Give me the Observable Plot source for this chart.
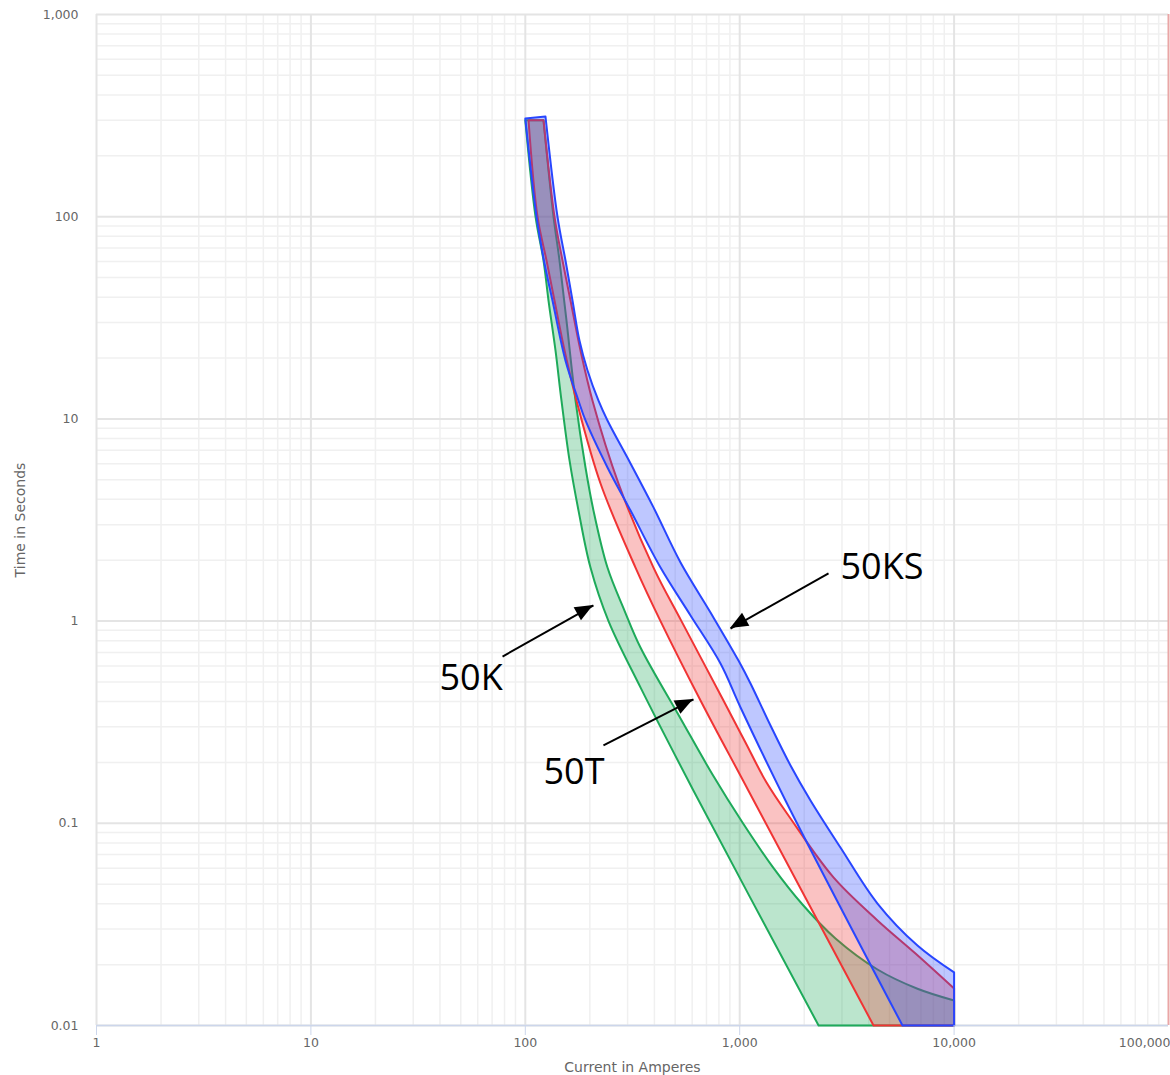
<!DOCTYPE html>
<html>
<head>
<meta charset="utf-8">
<script src="https://cdn.jsdelivr.net/npm/d3@7"></script>
<script src="https://cdn.jsdelivr.net/npm/@observablehq/plot@0.6"></script>
<style>
  html, body { margin: 0; padding: 0; background: #fff; }
  #chart { width: 1170px; height: 1075px; }
</style>
</head>
<body>
<div id="chart"></div>
<script>
// Time-current characteristics of three 50 A fuse links on log-log axes.
// Each band spans from the minimum-melting curve (left edge) to the
// total-clearing curve (right edge): current in amperes vs. time in seconds.

// 50K fuse link
const k50MeltAmps  = [100, 111.6, 121.6, 128.3, 138.3, 147.5, 160.8, 177.1, 201.4, 244.4, 344.5, 609, 2333];
const k50MeltSecs  = [300, 100, 60.7, 38.5, 21.8, 12.3, 6.23, 3.52, 1.84, 1.0, 0.47, 0.145, 0.01];
const k50ClearAmps = [121.6, 135.4, 144.4, 155.6, 171.5, 190.9, 208, 241.7, 290.1, 344.5, 529.7, 746.7, 1030.5, 1422, 1963, 2798, 4393, 6748, 10000];
const k50ClearSecs = [300, 100, 60.7, 30.67, 12.3, 5.75, 3.52, 1.84, 1.128, 0.74, 0.3299, 0.1743, 0.1009, 0.0611, 0.03967, 0.02694, 0.01892, 0.0152, 0.0133];

// 50T fuse link
const t50MeltAmps  = [103.5, 114, 125.6, 136.8, 152.4, 173.3, 224.3, 326.6, 427.2, 656.5, 1099, 4210];
const t50MeltSecs  = [300, 100, 60.7, 38.5, 21.8, 12.3, 4.79, 1.84, 1.0, 0.405, 0.145, 0.01];
const t50ClearAmps = [121.6, 136.8, 149.1, 162.5, 180.9, 205.8, 272.1, 396.2, 535, 840, 1064, 1334, 1726, 2738, 4393, 6607, 10000];
const t50ClearSecs = [300, 100, 60.7, 38.5, 21.8, 12.3, 4.79, 1.84, 1.0, 0.405, 0.2509, 0.1591, 0.1056, 0.054, 0.0331, 0.0227, 0.01524];

// 50KS fuse link
const ks50MeltAmps  = [100, 112.8, 122.9, 133.9, 154, 177.1, 190.9, 241.7, 309.6, 427.2, 589.7, 813.6, 1009, 1635, 5745];
const ks50MeltSecs  = [306, 100, 58.7, 38.5, 19.4, 12.3, 9.82, 5.75, 3.52, 1.84, 1.066, 0.617, 0.374, 0.1297, 0.01];
const ks50ClearAmps = [124.2, 141.3, 154, 166, 178.9, 195.1, 219.5, 241.7, 309.6, 396.2, 529.7, 730.9, 987.2, 1123, 1392, 1726, 2139, 2951, 4393, 6748, 10000];
const ks50ClearSecs = [313, 100, 60.7, 38.5, 24.42, 17.35, 12.3, 9.82, 6.02, 3.65, 1.949, 1.103, 0.638, 0.4914, 0.3045, 0.1931, 0.1297, 0.0759, 0.0401, 0.02486, 0.0183];

// Callout labels and their arrows
const calloutLabels = ["50KS", "50K", "50T"];
const calloutAmps   = [2951, 39.8, 121.6];
const calloutSecs   = [1.84, 0.52, 0.178];
const arrowTailAmps = [2596, 78.3, 231.5];
const arrowTailSecs = [1.72, 0.668, 0.2426];
const arrowTipAmps  = [906, 208, 609];
const arrowTipSecs  = [0.919, 1.195, 0.4096];

// Axes
const xTicks      = [1, 10, 100, 1000, 10000, 100000];
const xTickLabels = ["1", "10", "100", "1,000", "10,000", "100,000"];
const yTicks      = [0.01, 0.1, 1, 10, 100, 1000];
const yTickLabels = ["0.01", "0.1", "1", "10", "100", "1,000"];
const xTitle = "Current in Amperes";
const yTitle = "Time in Seconds";

const xLabelOf = new Map(xTicks.map((t, i) => [t, xTickLabels[i]]));
const yLabelOf = new Map(yTicks.map((t, i) => [t, yTickLabels[i]]));

// minor grid positions: 2..9 within every decade
const minorSteps = [2, 3, 4, 5, 6, 7, 8, 9];
const minorOf = (majors) => majors.slice(0, -1).flatMap(m => minorSteps.map(s => m * s));
const xMinor = minorOf(xTicks);
const yMinor = minorOf(yTicks);

// Closed band outline: melting curve down, along the floor, back up the
// clearing curve. Corner points are doubled so the smooth curve keeps them sharp.
function band(meltA, meltS, clearA, clearS) {
  const melt = meltA.map((a, i) => ({a, s: meltS[i]}));
  const clear = clearA.map((a, i) => ({a, s: clearS[i]})).reverse();
  const floorEnd = {a: clearA[clearA.length - 1], s: meltS[meltS.length - 1]};
  const pts = [];
  pts.push(melt[0], ...melt.slice(0, -1), melt[melt.length - 1], melt[melt.length - 1]);
  pts.push(floorEnd, floorEnd);
  pts.push(clear[0], ...clear.slice(0, -1), clear[clear.length - 1], clear[clear.length - 1]);
  pts.push(melt[0], melt[0]);
  return pts;
}

const bands = [
  {pts: band(k50MeltAmps, k50MeltSecs, k50ClearAmps, k50ClearSecs), color: "#1eaa5a"},
  {pts: band(t50MeltAmps, t50MeltSecs, t50ClearAmps, t50ClearSecs), color: "#f03434"},
  {pts: band(ks50MeltAmps, ks50MeltSecs, ks50ClearAmps, ks50ClearSecs), color: "#2846ff"}
];

const callouts = calloutLabels.map((label, i) => ({label, a: calloutAmps[i], s: calloutSecs[i]}));
const arrows = calloutLabels.map((label, i) => ({
  x1: arrowTailAmps[i], y1: arrowTailSecs[i], x2: arrowTipAmps[i], y2: arrowTipSecs[i]
}));

const axisColor = "#ccd6eb";
const labelColor = "#666666";

const plot = Plot.plot({
  width: 1170,
  height: 1075,
  marginLeft: 96,
  marginRight: 2,
  marginTop: 14,
  marginBottom: 50,
  style: {fontFamily: "DejaVu Sans", fontSize: "12.5px", background: "#fff", overflow: "visible"},
  x: {type: "log", domain: [1, 100000]},
  y: {type: "log", domain: [0.01, 1000]},
  marks: [
    Plot.gridX({ticks: xMinor, stroke: "#f0f0f0", strokeOpacity: 1, strokeWidth: 1.5}),
    Plot.gridY({ticks: yMinor, stroke: "#f0f0f0", strokeOpacity: 1, strokeWidth: 1.5}),
    Plot.gridX({ticks: xTicks.slice(0, -1), stroke: "#e4e4e4", strokeOpacity: 1, strokeWidth: 2}),
    Plot.gridY({ticks: yTicks, stroke: "#e4e4e4", strokeOpacity: 1, strokeWidth: 2}),
    Plot.ruleX([xTicks[xTicks.length - 1]], {stroke: "#eaa6a6", strokeWidth: 2}),
    Plot.ruleY([yTicks[0]], {stroke: axisColor, strokeWidth: 1.5}),

    ...bands.map(b => Plot.line(b.pts, {
      x: "a", y: "s", curve: "catmull-rom",
      fill: b.color, fillOpacity: 0.3,
      stroke: b.color, strokeWidth: 2, strokeLinejoin: "round"
    })),

    Plot.axisX({
      ticks: xTicks.slice(0, -1), tickFormat: d => xLabelOf.get(d),
      tickSize: 10, tickPadding: 3, stroke: axisColor, fill: labelColor, label: null
    }),
    Plot.axisX({
      ticks: xTicks.slice(-1), tickFormat: d => xLabelOf.get(d),
      tickSize: 10, tickPadding: 3, stroke: "#eaa6a6", fill: labelColor,
      textAnchor: "end", dx: 2, label: null
    }),
    Plot.axisY({
      ticks: yTicks, tickFormat: d => yLabelOf.get(d),
      tickSize: 0, tickPadding: 18, fill: labelColor, label: null
    }),
    Plot.text([xTitle], {frameAnchor: "bottom", textAnchor: "middle", lineAnchor: "middle", dy: 42, fill: labelColor, fontSize: 14}),
    Plot.text([yTitle], {frameAnchor: "left", textAnchor: "middle", lineAnchor: "middle", rotate: -90, dx: -76, fill: labelColor, fontSize: 14}),

    Plot.link(arrows, {x1: "x1", y1: "y1", x2: "x2", y2: "y2", stroke: "#000", strokeWidth: 2}),
    Plot.text(callouts, {
      x: "a", y: "s", text: "label", textAnchor: "start", lineAnchor: "middle",
      fontFamily: "Open Sans", fontSize: 36, fill: "#000"
    })
  ]
});

// Filled arrowheads at the arrow tips, placed through the plot's scales.
const sx = plot.scale("x"), sy = plot.scale("y");
const svg = d3.select(plot);
for (const r of arrows) {
  const x1 = sx.apply(r.x1), y1 = sy.apply(r.y1);
  const x2 = sx.apply(r.x2), y2 = sy.apply(r.y2);
  const ang = Math.atan2(y2 - y1, x2 - x1);
  const len = 18, half = 7.5;
  const bx = x2 - len * Math.cos(ang), by = y2 - len * Math.sin(ang);
  const px = -Math.sin(ang) * half, py = Math.cos(ang) * half;
  svg.append("path")
    .attr("d", `M${x2},${y2}L${bx + px},${by + py}L${bx - px},${by - py}Z`)
    .attr("fill", "#000");
}

document.getElementById("chart").appendChild(plot);
</script>
</body>
</html>
